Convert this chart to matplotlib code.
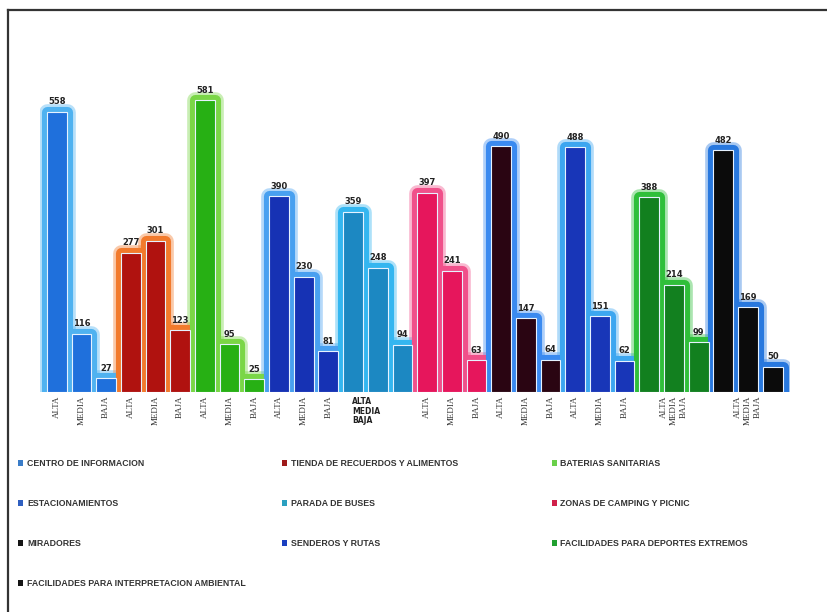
import numpy as np
import matplotlib
matplotlib.use("Agg")
import matplotlib.pyplot as plt
from matplotlib.lines import Line2D
from matplotlib.patches import Patch

# datos de la encuesta: nivel de uso ALTA / MEDIA / BAJA por servicio
categories = ["CENTRO DE INFORMACION", "TIENDA DE RECUERDOS Y ALIMENTOS", "BATERIAS SANITARIAS",
              "ESTACIONAMIENTOS", "PARADA DE BUSES", "ZONAS DE CAMPING Y PICNIC",
              "MIRADORES", "SENDEROS Y RUTAS", "FACILIDADES PARA DEPORTES EXTREMOS",
              "FACILIDADES PARA INTERPRETACION AMBIENTAL"]
levels = ["ALTA", "MEDIA", "BAJA"]
alta = [558, 277, 581, 390, 359, 397, 490, 488, 388, 482]
media = [116, 301, 95, 230, 248, 241, 147, 151, 214, 169]
baja = [27, 123, 25, 81, 94, 63, 64, 62, 99, 50]

# colores: relleno, brillo, leyenda
main_colors = ["#1f70dc", "#b0120f", "#27b014", "#1632b4", "#1c88c2",
               "#e6165c", "#2a0512", "#1836b8", "#12801f", "#0b0b0b"]
glow_colors = ["#4fb2f0", "#f27a2c", "#7ad646", "#48a0f0", "#34b6f0",
               "#f0508a", "#3a8af0", "#3ca6f0", "#2fbf3a", "#2878de"]
legend_colors = ["#3a7cc8", "#9e1a1a", "#6ad04a", "#2f5fc0", "#2aa0c0",
                 "#d0204a", "#151515", "#1a3fc0", "#20a030", "#151515"]
# como se ven las etiquetas del eje en cada grupo
label_style = ["spread", "spread", "spread", "spread", "stacked",
               "spread", "spread", "spread", "tight", "tight"]

fig = plt.figure(figsize=(8.27, 6.12), dpi=100)
ax = fig.add_axes([0.048, 0.3595, 0.907, 0.533])

values = np.array([alta, media, baja]).T  # (10, 3)
w = 0.8
for g in range(len(categories)):
    xs = np.arange(3) + 3 * g
    vs = values[g]
    # brillo exterior
    ax.bar(xs, vs, width=w, color=glow_colors[g], edgecolor=glow_colors[g],
           linewidth=12, joinstyle="round", alpha=0.4, zorder=1)
    ax.bar(xs, vs, width=w, color=glow_colors[g], edgecolor=glow_colors[g],
           linewidth=8, joinstyle="round", zorder=2)
    ax.bar(xs, vs, width=w, color=main_colors[g], edgecolor="#e6f2ff",
           linewidth=0.8, zorder=3)
    for x, v in zip(xs, vs):
        ax.annotate(str(v), (x, v), xytext=(0, 4), textcoords="offset points",
                    ha="center", va="bottom", fontsize=6, fontweight="bold",
                    color="#222222", zorder=5)

    # etiquetas del eje
    trans = ax.get_xaxis_transform()
    if label_style[g] == "stacked":
        ax.text(xs[0] - 0.05, -0.015, "\n".join(levels), transform=trans,
                ha="left", va="top", fontsize=5.5, fontweight="bold",
                linespacing=1.1, color="#222222")
    else:
        if label_style[g] == "tight":
            lx = xs[1] + np.array([-0.4, 0.0, 0.4])
        else:
            lx = xs
        for x, lab in zip(lx, levels):
            ax.text(x, -0.01, lab, transform=trans, rotation=90, ha="center",
                    va="top", fontsize=6.5, family="Liberation Serif",
                    color="#333333")

ax.set_xlim(-0.69, 29.69)
ax.set_ylim(0, 650)
ax.set_xticks([])
ax.set_yticks([])
for s in ax.spines.values():
    s.set_visible(False)

# leyenda en tres columnas, llenada por filas
handles = [Patch(facecolor=c, edgecolor="none") for c in legend_colors]
col_x = [0.022, 0.341, 0.667]
for c in range(3):
    idx = list(range(c, len(categories), 3))
    fig.legend([handles[i] for i in idx], [categories[i] for i in idx],
               loc="upper left", bbox_to_anchor=(col_x[c], 0.25),
               frameon=False, handlelength=0.6, handleheight=0.6,
               handletextpad=0.4, labelspacing=3.55, borderaxespad=0,
               borderpad=0,
               prop={"family": ["Liberation Sans", "DejaVu Sans"],
                     "size": 6.3, "weight": "bold"},
               labelcolor="#333333")

# marco del dibujo escaneado
fig.add_artist(Line2D([0.0097, 0.0097], [0.0, 0.984], color="#333333", lw=1.6))
fig.add_artist(Line2D([0.0097, 1.0], [0.984, 0.984], color="#333333", lw=1.6))

fig.savefig("out.png", dpi=100, facecolor="white")
